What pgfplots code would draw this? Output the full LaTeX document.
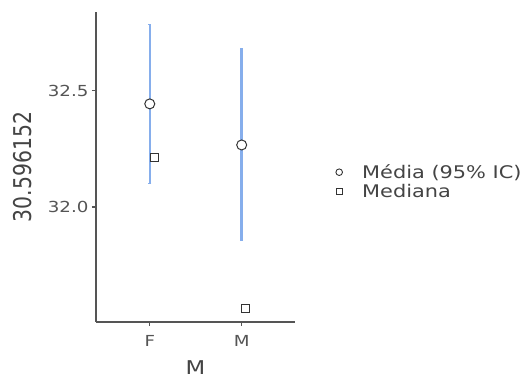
\documentclass[border=0pt]{standalone}
\usepackage{fontspec}
\setmainfont{DejaVu Sans}[FakeStretch=1.2]
\newfontfamily\ylabfont{DejaVu Sans}
\usepackage{graphicx}
\usepackage{pgfplots}
\pgfplotsset{compat=1.18}
\definecolor{cibl}{HTML}{86AEEC}
\definecolor{axg}{HTML}{555555}
\definecolor{txtg}{HTML}{444444}
\definecolor{markc}{HTML}{333333}
\begin{document}
\begin{tikzpicture}
\path[use as bounding box] (-96pt,-58pt) rectangle (432pt,322pt);
\begin{axis}[
  at={(0pt,0pt)}, anchor=south west,
  scale only axis, width=199pt, height=310pt,
  xmin=0.415, xmax=2.58, ymin=31.504, ymax=32.84,
  axis lines=left,
  axis line style={-, draw=axg, line width=1.2pt},
  xtick={1,2}, xticklabels={F,M},
  ytick={32.0,32.5}, yticklabels={32.0,32.5},
  tick align=outside, major tick length=4pt,
  tick style={draw=axg, line width=1.2pt},
  tick label style={font=\fontsize{15.2}{16}\selectfont, text=axg},
  xticklabel style={yshift=-6pt},
  xlabel={\fontsize{19}{21}\selectfont M},
  xlabel style={yshift=-7pt},
  ylabel={\ylabfont\fontsize{20.4}{22}\selectfont\scalebox{1}[1.2]{30.596152}},
  ylabel style={yshift=9pt},
  label style={text=txtg},
  legend image code/.code={\draw[#1] plot coordinates {(0pt,0pt)}; \path[draw=none,fill=none] (-4pt,-4pt) rectangle (21pt,4pt);},
  legend style={at={(axis description cs:1,0.453)}, anchor=west, xshift=40pt,
    draw=none, fill=none, font=\fontsize{17.4}{19}\selectfont, text=txtg,
    legend cell align=left, row sep=0pt, inner sep=0pt},
  clip=false,
]
\addlegendimage{only marks, mark=*, mark size=3.3pt, mark options={draw=markc, fill=white, line width=0.9pt}}
\addlegendentry{Média (95\% IC)}
\addlegendimage{only marks, mark=square*, mark size=3.2pt, mark options={draw=markc, fill=white, line width=0.9pt}}
\addlegendentry{Mediana}
\addplot[forget plot, draw=none, mark=none,
  error bars/.cd, y dir=both, y explicit,
  error bar style={cibl, line width=2.4pt},
  error mark=-, error mark options={cibl, line width=1.5pt, mark size=1.5pt, rotate=90}]
  coordinates {(1,32.444) += (0,0.342) -= (0,0.343)
               (2,32.267) += (0,0.416) -= (0,0.409)};
\addplot[forget plot, only marks, mark=*, mark size=5pt,
  mark options={draw=markc, fill=white, line width=1pt}]
  coordinates {(1,32.444) (2,32.267)};
\addplot[forget plot, only marks, mark=square*, mark size=4pt,
  mark options={draw=markc, fill=white, line width=1pt}]
  coordinates {(1.055,32.211) (2.045,31.562)};
\end{axis}
\end{tikzpicture}
\end{document}
